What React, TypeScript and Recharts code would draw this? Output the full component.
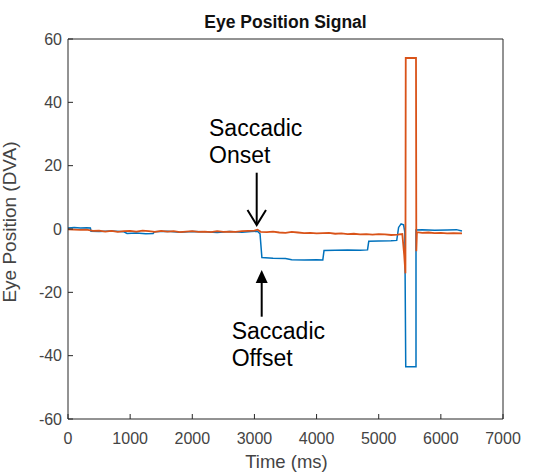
import { LineChart, Line, XAxis, YAxis } from 'recharts';

// time stamps (ms) and horizontal eye position (DVA) for each trace
const blueTime = [
  0, 100, 200, 300, 360, 370, 500, 700, 900, 950, 1100, 1250, 1370, 1390, 1600,
  1800, 2000, 2200, 2400, 2600, 2800, 2950, 3050, 3090, 3120, 3300, 3500, 3600,
  3800, 4000, 4100, 4120, 4300, 4500, 4700, 4820, 4840, 5000, 5200, 5290, 5320,
  5360, 5400, 5420, 5435, 5600, 5600, 5700, 5900, 6100, 6250, 6340,
];
const blueValue = [
  0.3, 0.5, 0.3, 0.4, 0.3, -0.7, -0.8, -0.6, -0.9, -1.4, -1.3, -1.5, -1.4, -0.9, -0.7,
  -1.0, -0.8, -0.9, -1.1, -0.8, -1.0, -0.8, -0.7, -1.5, -9.0, -9.2, -9.3, -9.7,
  -9.8, -9.7, -9.8, -6.8, -6.7, -6.6, -6.7, -6.6, -3.9, -3.8, -3.7, -3.6, 0.5,
  1.6, 1.3, -1.0, -43.5, -43.5, -0.3, -0.2, -0.4, -0.3, -0.2, -0.6,
];

const orangeTime = [
  0, 100, 200, 300, 400, 500, 600, 700, 800, 900, 1000, 1100, 1200, 1300, 1400,
  1500, 1600, 1700, 1800, 1900, 2000, 2100, 2200, 2300, 2400, 2500, 2600, 2700,
  2800, 2900, 3000, 3050, 3100, 3200, 3300, 3400, 3500, 3600, 3700, 3800, 3900,
  4000, 4100, 4200, 4300, 4400, 4500, 4600, 4700, 4800, 4900, 5000, 5100, 5200,
  5300, 5380, 5410, 5430, 5435, 5600, 5605, 5615, 5700, 5800, 5900, 6000, 6100,
  6200, 6340,
];
const orangeValue = [
  -0.1, -0.2, -0.3, -0.2, -0.6, -0.5, -0.8, -0.6, -0.9, -0.7, -0.6, -0.8, -0.5, -0.7, -0.9,
  -0.6, -0.8, -0.7, -1.0, -0.8, -0.7, -0.9, -0.8, -1.0, -0.7, -0.9, -0.8, -0.9,
  -0.7, -0.6, -0.5, -0.2, -0.9, -1.0, -0.8, -1.1, -1.2, -0.9, -1.1, -1.3, -1.2,
  -1.4, -1.3, -1.2, -1.5, -1.4, -1.6, -1.5, -1.7, -1.6, -1.8, -1.6, -1.7, -1.9,
  -1.8, -1.6, -8.2, -14, 54, 54, -7, -1.0, -1.2, -1.1, -1.3, -1.2, -1.4,
  -1.3, -1.4,
];

const timeTicks = [0, 1000, 2000, 3000, 4000, 5000, 6000, 7000];
const positionTicks = [-60, -40, -20, 0, 20, 40, 60];

const blueData = blueTime.map((t, i) => ({ t, v: blueValue[i] }));
const orangeData = orangeTime.map((t, i) => ({ t, v: orangeValue[i] }));

const AXIS = '#262626';
const LABEL = '#444';
const FONT = '"Liberation Sans", Arial, sans-serif';
const tickStyle = { fill: LABEL, fontSize: 16, fontFamily: FONT };

// plot box: x 68..503, y 39..419
export default function App() {
  return (
    <div style={{ position: 'relative', width: 545, height: 472, background: '#fff' }}>
      <style>{'body{margin:0}'}</style>
      <LineChart
        width={545}
        height={472}
        margin={{ top: 29, right: 32, bottom: 23, left: 28 }}
      >
        <XAxis
          dataKey="t"
          type="number"
          domain={[0, 7000]}
          ticks={timeTicks}
          height={30}
          tickSize={-5}
          tickMargin={19}
          stroke={AXIS}
          tick={tickStyle}
          allowDataOverflow
        />
        <XAxis
          xAxisId="top"
          dataKey="t"
          orientation="top"
          type="number"
          domain={[0, 7000]}
          ticks={timeTicks}
          height={10}
          tickSize={-5}
          tick={false}
          stroke={AXIS}
          allowDataOverflow
        />
        <YAxis
          type="number"
          domain={[-60, 60]}
          ticks={positionTicks}
          width={40}
          tickSize={-5}
          tickMargin={11}
          stroke={AXIS}
          tick={tickStyle}
          allowDataOverflow
        />
        <YAxis
          yAxisId="right"
          orientation="right"
          type="number"
          domain={[-60, 60]}
          ticks={positionTicks}
          width={10}
          tickSize={-5}
          tick={false}
          stroke={AXIS}
          allowDataOverflow
        />
        <Line
          data={blueData}
          dataKey="v"
          type="linear"
          stroke="#0072BD"
          strokeWidth={1.5}
          dot={false}
          isAnimationActive={false}
        />
        <Line
          data={orangeData}
          dataKey="v"
          type="linear"
          stroke="#D95319"
          strokeWidth={1.8}
          dot={false}
          isAnimationActive={false}
        />
      </LineChart>

      {/* title, axis titles and the onset / offset callouts */}
      <svg
        width={545}
        height={472}
        style={{ position: 'absolute', left: 0, top: 0, pointerEvents: 'none' }}
      >
        <text x={285.5} y={28} textAnchor="middle" fontFamily={FONT} fontWeight="bold" fontSize={17.5} fill="#111">
          Eye Position Signal
        </text>
        <text x={286.5} y={468} textAnchor="middle" fontFamily={FONT} fontSize={18.5} fill={LABEL}>
          Time (ms)
        </text>
        <text
          x={16}
          y={222}
          textAnchor="middle"
          fontFamily={FONT}
          fontSize={19}
          fill={LABEL}
          transform="rotate(-90 16 222)"
        >
          Eye Position (DVA)
        </text>

        <g fontFamily={FONT} fontSize={23} fill="#000">
          <text x={209} y={136}>
            <tspan x={209}>Saccadic</tspan>
            <tspan x={209} dy={27}>Onset</tspan>
          </text>
          <text x={231.7} y={339}>
            <tspan x={231.7}>Saccadic</tspan>
            <tspan x={231.7} dy={27}>Offset</tspan>
          </text>
        </g>
        <g stroke="#000" strokeWidth={2} fill="none">
          <line x1={256.7} y1={172.7} x2={256.7} y2={224} />
          <polyline points="247.5,210 256.7,225 266,210" />
          <line x1={261.7} y1={280} x2={261.7} y2={316.7} />
        </g>
        <polygon points="261.7,270 255.7,283 267.7,283" fill="#000" />
      </svg>
    </div>
  );
}
